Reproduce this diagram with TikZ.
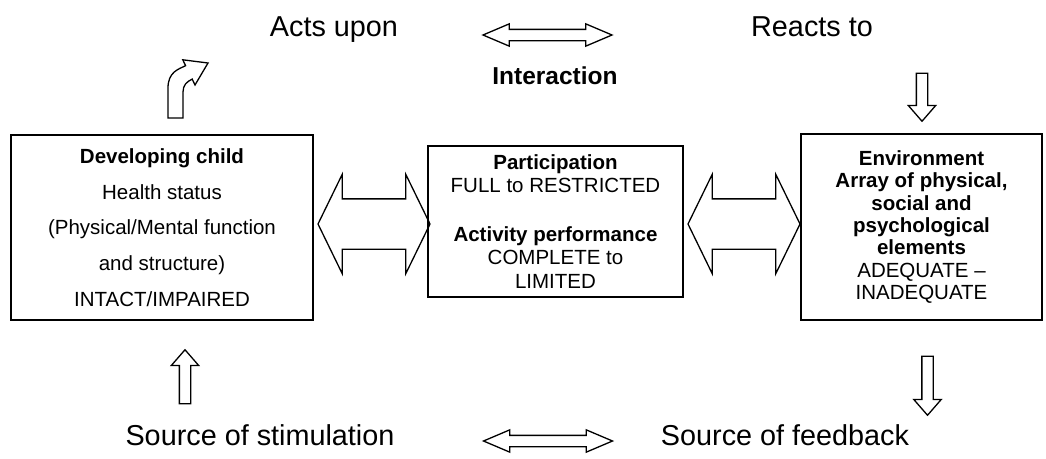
\documentclass[tikz,border=0pt]{standalone}
\usepackage{fontspec}
\setmainfont{Liberation Sans}
\usepackage{tikz}
\usetikzlibrary{shapes.arrows, positioning}

\begin{document}
\begin{tikzpicture}[
    x=1pt, y=-1pt,
    box/.style={rectangle, draw=black, line width=1.8pt, align=center,
                inner sep=0pt, font=\fontsize{20.5}{23.5}\selectfont},
    headline/.style={inner sep=0pt, anchor=base, font=\fontsize{28.8}{34}\selectfont},
    bigdarrow/.style={double arrow, draw=black, line width=1.3pt, inner sep=0pt,
                text height=49pt, text depth=0pt, minimum height=112pt,
                double arrow head extend=24.5pt, double arrow tip angle=128},
    smalldarrow/.style={double arrow, draw=black, line width=1.3pt, inner sep=0pt,
                text height=10pt, text depth=0pt, minimum height=129pt,
                double arrow head extend=5.5pt, double arrow tip angle=46},
    blockarrow/.style={single arrow, draw=black, line width=1.3pt, inner sep=0pt,
                text height=10pt, text depth=0pt,
                single arrow head extend=8pt, single arrow tip angle=82}
]
\fill[white] (0,0) rectangle (1046,458);
\useasboundingbox (0,0) rectangle (1046,458);

% Top row
\node[headline] (acts) at (334,36) {Acts upon};
\node[smalldarrow] (toplink) at (547.5,35) {};
\node[headline] (reacts) at (812,36) {Reacts to};
\node[headline, font=\bfseries\fontsize{24.5}{28}\selectfont] (interaction) at (555,84) {Interaction};

% Boxes
\node[box, minimum width=302pt, minimum height=185pt,
      font=\fontsize{20.5}{35.7}\selectfont] (child) at (162,227.5)
    {\textbf{Developing child}\\Health status\\(Physical/Mental function\\and structure)\\INTACT/IMPAIRED};
\node[box, minimum width=255pt, minimum height=151pt] (activity) at (555.5,221.5)
    {\textbf{Participation}\\FULL to RESTRICTED\\[25pt]\textbf{Activity performance}\\COMPLETE to\\LIMITED};
\node[box, minimum width=241pt, minimum height=186pt,
      font=\fontsize{20.5}{22.3}\selectfont] (environment) at (921.5,227)
    {\textbf{Environment}\\\textbf{Array of physical,}\\\textbf{social and}\\\textbf{psychological}\\\textbf{elements}\\ADEQUATE –\\INADEQUATE};

% Links between boxes
\node[bigdarrow] (leftlink) at (374,224) {};
\node[bigdarrow] (rightlink) at (744,224) {};

% Vertical arrows
\draw[line width=1.3pt, line join=miter] (168,118) -- (168,88)
    .. controls (168,72) and (178.4,69.2) .. (185.6,65.7) -- (182.8,59.8)
    -- (208,63) -- (195,85) -- (192.2,79.1)
    .. controls (186.8,81.7) and (183,85) .. (183,92) -- (183,118) -- cycle;
\node[blockarrow, rotate=-90, minimum height=48pt] (reactsdown) at (922,94) {};
\node[blockarrow, rotate=90, minimum height=54pt] (stimup) at (185,380) {};
\node[blockarrow, rotate=-90, minimum height=59pt] (feedbackdown) at (927.5,382.5) {};

% Bottom row
\node[headline] (stimulation) at (260,445) {Source of stimulation};
\node[smalldarrow] (bottomlink) at (548,441) {};
\node[headline] (feedback) at (785,445) {Source of feedback};

\end{tikzpicture}
\end{document}
